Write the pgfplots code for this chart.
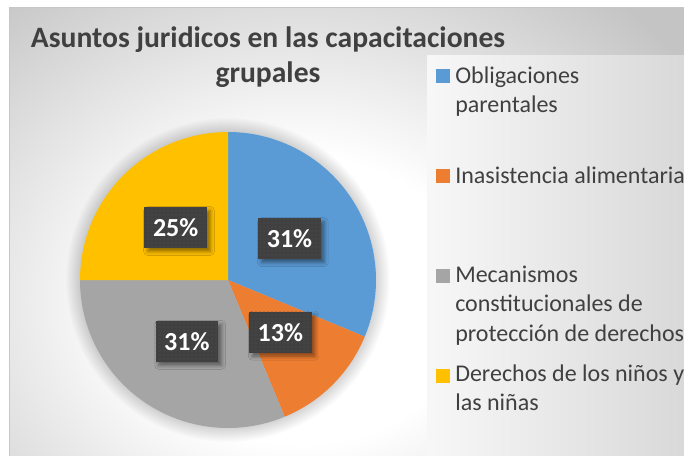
\documentclass[border=0pt]{standalone}
\usepackage{fontspec}
\setmainfont{Carlito}
\usepackage{pgfplots}
\usepackage{pgfplotstable}
\pgfplotsset{compat=1.18}
\usetikzlibrary{shadows.blur,patterns}

\definecolor{cBlue}{HTML}{5B9BD5}
\definecolor{cOrange}{HTML}{ED7D31}
\definecolor{cGray}{HTML}{A5A5A5}
\definecolor{cYellow}{HTML}{FFC000}
\definecolor{txt}{HTML}{404040}
\definecolor{edge}{HTML}{C4C4C4}

\pgfdeclareradialshading{chartbg}{\pgfpoint{0bp}{0bp}}{%
  color(0bp)=(white); color(9bp)=(white); color(25bp)=(edge); color(50bp)=(edge)}

% shares in percent, clockwise from the top
\pgfplotstableread{
share
31.25
12.5
31.25
25
}\piedata

\begin{document}
\begin{tikzpicture}[x=0.75pt,y=0.75pt,
  lbl/.style={fill=txt, text=white, inner sep=0pt,
    font=\fontsize{19.5}{22}\selectfont\bfseries,
    minimum width=47pt, minimum height=30.75pt,
    blur shadow={shadow xshift=2.5pt, shadow yshift=-2.5pt,
      shadow blur radius=3pt, shadow opacity=45},
    postaction={pattern=dots, pattern color=black!68}},
  leg/.style={anchor=base west, inner sep=0pt, text=txt,
    font=\fontsize{18}{21}\selectfont}]

\pgfplotstablegetelem{0}{share}\of\piedata\let\sA\pgfplotsretval
\pgfplotstablegetelem{1}{share}\of\piedata\let\sB\pgfplotsretval
\pgfplotstablegetelem{2}{share}\of\piedata\let\sC\pgfplotsretval
\pgfplotstablegetelem{3}{share}\of\piedata\let\sD\pgfplotsretval
\pgfmathsetmacro\aA{90}
\pgfmathsetmacro\aB{\aA-3.6*\sA}
\pgfmathsetmacro\aC{\aB-3.6*\sB}
\pgfmathsetmacro\aD{\aC-3.6*\sC}
\pgfmathsetmacro\aE{\aD-3.6*\sD}
\pgfmathsetmacro\mA{(\aA+\aB)/2}
\pgfmathsetmacro\mB{(\aB+\aC)/2}
\pgfmathsetmacro\mC{(\aC+\aD)/2}
\pgfmathsetmacro\mD{(\aD+\aE)/2}

\path[use as bounding box] (0,0) rectangle (684,455);
\begin{scope}
\clip (0,0) rectangle (684,455);
\fill[white] (0,0) rectangle (684,455);
\begin{scope}
  \clip (9,-5) rectangle (700,448);
  \fill[edge] (9,-5) rectangle (700,448);
  \shade[shading=chartbg] (300,155) ellipse [x radius=480, y radius=400];
\end{scope}
\draw[black!22, line width=0.75pt] (9,-5) -- (9,448) -- (700,448);
\shade[left color=black!3, right color=black!15] (427,-5) rectangle (684,400);

% soft halo around the pie
\foreach \k in {1,...,14}
  \fill[black, opacity=0.012] (228,175) circle (148+\k);

% title
\node[anchor=base, inner sep=0pt, text=txt,
  font=\fontsize{22.2}{26}\selectfont\bfseries] at (268,408)
  {Asuntos juridicos en las capacitaciones};
\node[anchor=base, inner sep=0pt, text=txt,
  font=\fontsize{22.2}{26}\selectfont\bfseries] at (268,373) {grupales};

\begin{axis}[at={(171pt,131.25pt)}, anchor=center,
  scale only axis, width=222pt, height=222pt,
  xmin=-1, xmax=1, ymin=-1, ymax=1,
  hide axis, clip=false]
\addplot[fill=cBlue, draw=none, domain=\aB:\aA, samples=100]
  ({cos(x)},{sin(x)}) -- (0,0) -- cycle;
\addplot[fill=cOrange, draw=none, domain=\aC:\aB, samples=50]
  ({cos(x)},{sin(x)}) -- (0,0) -- cycle;
\addplot[fill=cGray, draw=none, domain=\aD:\aC, samples=100]
  ({cos(x)},{sin(x)}) -- (0,0) -- cycle;
\addplot[fill=cYellow, draw=none, domain=\aE:\aD, samples=80]
  ({cos(x)},{sin(x)}) -- (0,0) -- cycle;
\node[lbl] at (axis cs:{0.5*cos(\mA)},{0.5*sin(\mA)}) {31\%};
\node[lbl] at (axis cs:{0.5*cos(\mB)},{0.5*sin(\mB)}) {13\%};
\node[lbl] at (axis cs:{0.5*cos(\mC)},{0.5*sin(\mC)}) {31\%};
\node[lbl] at (axis cs:{0.5*cos(\mD)},{0.5*sin(\mD)}) {25\%};
\end{axis}

% legend
\fill[cBlue]   (436,372) rectangle (450,386);
\fill[cOrange] (436,272) rectangle (450,286);
\fill[cGray]   (436,172) rectangle (450,186);
\fill[cYellow] (436,72)  rectangle (450,86);
\node[leg] at (455,372)   {Obligaciones};
\node[leg] at (455,342.5) {parentales};
\node[leg] at (455,272)   {Inasistencia alimentaria};
\node[leg] at (455,173)   {Mecanismos};
\node[leg] at (455,143.5) {constitucionales de};
\node[leg] at (455,114)   {protección de derechos};
\node[leg] at (455,74)    {Derechos de los niños y};
\node[leg] at (455,44.5)  {las niñas};
\end{scope}
\end{tikzpicture}
\end{document}
